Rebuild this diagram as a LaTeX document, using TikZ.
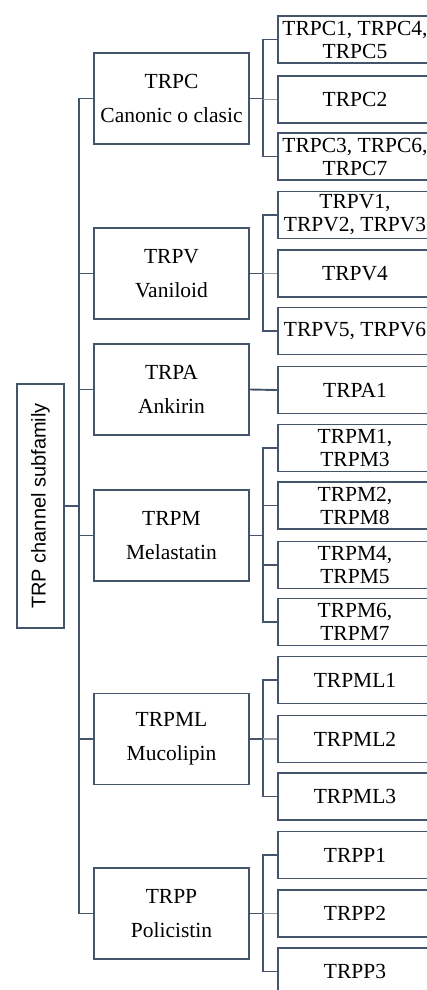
\documentclass[tikz,border=0pt]{standalone}
\usepackage{fontspec}
\setmainfont{Liberation Serif}
\newfontfamily\rootfont{Liberation Sans}
\usepackage{tikz}
\usetikzlibrary{positioning, calc}
\usepackage{xcolor}
\definecolor{trpline}{HTML}{44546A}
\definecolor{trplight}{HTML}{9AA0A8}

\begin{document}
\begin{tikzpicture}[
  x=1pt, y=-1pt,
  rootbox/.style={rectangle, draw=trpline, line width=1.9pt,
                  minimum width=47pt, minimum height=244pt,
                  inner sep=0pt, font=\rootfont\fontsize{20}{22}\selectfont},
  famname/.style={rectangle, draw=trpline, line width=1.9pt,
                  minimum width=155pt, minimum height=91pt,
                  inner sep=0pt, align=center,
                  font=\fontsize{21.5}{34}\selectfont},
  member/.style={rectangle, draw=trpline, line width=1.9pt,
                 minimum width=154pt, minimum height=47pt,
                 inner sep=0pt, align=center,
                 font=\fontsize{21.5}{23}\selectfont},
  conn/.style={draw=trpline, line width=1.9pt},
  connlight/.style={draw=trplight, line width=1.9pt}
]
\useasboundingbox (0,0) rectangle (427,990);

% === Root (rotated label) ===
\node[rootbox] (root) at (40.5, 506) {\rotatebox{90}{TRP channel subfamily}};

% === Subfamilies, one column at x = 171.5 ===
\node[famname] (trpc)  at (171.5,  98.5) {TRPC\\Canonic o clasic};
\node[famname] (trpv)  at (171.5, 273.5) {TRPV\\Vaniloid};
\node[famname] (trpa)  at (171.5, 389.5) {TRPA\\Ankirin};
\node[famname] (trpm)  at (171.5, 535.5) {TRPM\\Melastatin};
\node[famname] (trpml) at (171.5, 739)   {TRPML\\Mucolipin};
\node[famname] (trpp)  at (171.5, 913.5) {TRPP\\Policistin};

% === Members (right edge runs past the page) ===
\node[member] (c1)  at (355,  39.5) {TRPC1, TRPC4,\\TRPC5};
\node[member] (c2)  at (355,  99.5) {TRPC2};
\node[member] (c3)  at (355, 156.5) {TRPC3, TRPC6,\\TRPC7};

\node[member] (v1)  at (355, 215)   {TRPV1,\\TRPV2, TRPV3};
\node[member] (v2)  at (355, 273.5) {TRPV4};
\node[member] (v3)  at (355, 331)   {TRPV5, TRPV6};

\node[member] (a1)  at (355, 390)   {TRPA1};

\node[member] (m1)  at (355, 448)   {TRPM1,\\TRPM3};
\node[member] (m2)  at (355, 505.5) {TRPM2,\\TRPM8};
\node[member] (m3)  at (355, 565)   {TRPM4,\\TRPM5};
\node[member] (m4)  at (355, 622)   {TRPM6,\\TRPM7};

\node[member] (ml1) at (355, 680)   {TRPML1};
\node[member] (ml2) at (355, 739)   {TRPML2};
\node[member] (ml3) at (355, 796.5) {TRPML3};

\node[member] (p1)  at (355, 855)   {TRPP1};
\node[member] (p2)  at (355, 913.5) {TRPP2};
\node[member] (p3)  at (355, 971.5) {TRPP3};

% === Trunk and sub-trunk x positions ===
\coordinate (trunk) at (79, 0);
\coordinate (sub)   at (263, 0);

% === Root -> subfamilies ===
\draw[conn] (trpc.west) -- (trpc.west -| trunk) -- (trpp.west -| trunk) -- (trpp.west);
\draw[conn] (trpv.west)  -- (trpv.west -| trunk);
\draw[conn] (trpa.west)  -- (trpa.west -| trunk);
\draw[conn] (trpm.west)  -- (trpm.west -| trunk);
\draw[conn] (trpml.west) -- (trpml.west -| trunk);
\draw[conn] (root.east)  -- (root.east -| trunk);

% === Subfamilies -> members ===
% TRPC
\draw[conn] (c1.west) -- (c1.west -| sub) -- (c3.west -| sub) -- (c3.west);
\draw[conn] (trpc.east) -- (trpc.east -| sub);
\draw[connlight] (c2.west -| sub) -- (c2.west);
% TRPV
\draw[conn] (v1.west) -- (v1.west -| sub) -- (v3.west -| sub) -- (v3.west);
\draw[conn] (trpv.east) -- (trpv.east -| sub);
\draw[connlight] (v2.west -| sub) -- (v2.west);
% TRPA
\draw[conn] (trpa.east) -- (a1.west);
% TRPM
\draw[conn] (m1.west) -- (m1.west -| sub) -- (m4.west -| sub) -- (m4.west);
\draw[conn] (m2.west -| sub) -- (m2.west);
\draw[conn] (m3.west -| sub) -- (m3.west);
\draw[conn] (trpm.east) -- (trpm.east -| sub);
% TRPML
\draw[conn] (ml1.west) -- (ml1.west -| sub) -- (ml3.west -| sub) -- (ml3.west);
\draw[conn] (trpml.east) -- (trpml.east -| sub);
\draw[connlight] (ml2.west -| sub) -- (ml2.west);
% TRPP
\draw[conn] (p1.west) -- (p1.west -| sub) -- (p3.west -| sub) -- (p3.west);
\draw[conn] (trpp.east) -- (trpp.east -| sub);
\draw[connlight] (p2.west -| sub) -- (p2.west);

\end{tikzpicture}
\end{document}
